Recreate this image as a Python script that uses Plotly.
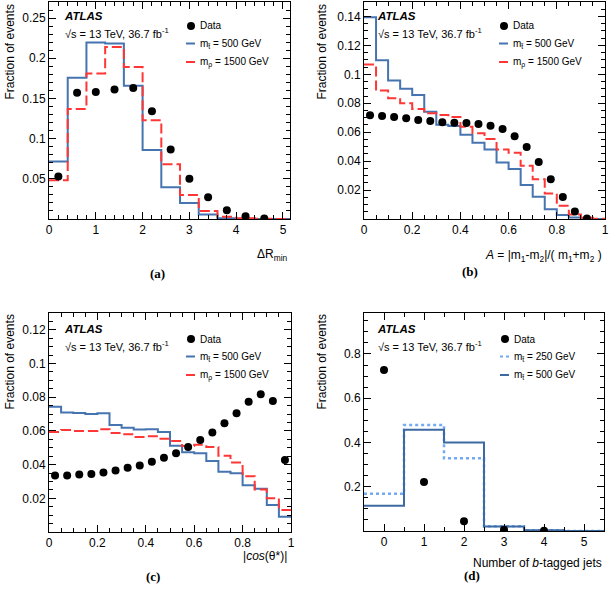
import plotly.graph_objects as go

# ---------------- data ----------------
# (a) Delta R_min
a_edges = [0.0, 0.4, 0.8, 1.2, 1.6, 2.0, 2.4, 2.8, 3.2, 3.6, 4.0, 4.4, 4.8, 5.2]
a_stop500 = [0.0716, 0.1757, 0.2197, 0.2185, 0.1658, 0.0857, 0.0396, 0.0200, 0.0056, 0.0010, 0.0003, 0.0001, 0.0]
a_rho1500 = [0.0483, 0.1370, 0.1810, 0.2140, 0.1890, 0.1230, 0.0680, 0.0300, 0.0100, 0.0027, 0.0010, 0.0003, 0.0]
a_data_x = [0.2, 0.6, 1.0, 1.4, 1.8, 2.2, 2.6, 3.0, 3.4, 3.8, 4.2, 4.6]
a_data = [0.053, 0.157, 0.158, 0.161, 0.163, 0.134, 0.0865, 0.050, 0.027, 0.011, 0.0035, 0.0006]

# (b) mass asymmetry
b_edges = [0.0, 0.05, 0.1, 0.15, 0.2, 0.25, 0.3, 0.35, 0.4, 0.45, 0.5,
           0.55, 0.6, 0.65, 0.7, 0.75, 0.8, 0.85, 0.9, 0.95, 1.0]
b_stop500 = [0.1395, 0.1098, 0.0957, 0.0901, 0.0858, 0.0742, 0.0652, 0.0643, 0.0583, 0.0527,
             0.0481, 0.0391, 0.0345, 0.0235, 0.0154, 0.0068, 0.0027, 0.0010, 0.0003, 0.0]
b_rho1500 = [0.1068, 0.0888, 0.0835, 0.0800, 0.0761, 0.0731, 0.0719, 0.0705, 0.0638, 0.0592,
             0.0553, 0.0481, 0.0458, 0.0368, 0.0274, 0.0177, 0.0091, 0.0031, 0.0008, 0.0002]
b_data_x = [0.025, 0.075, 0.125, 0.175, 0.225, 0.275, 0.325, 0.375, 0.425, 0.475,
            0.525, 0.575, 0.625, 0.675, 0.725, 0.775, 0.825, 0.875, 0.925]
b_data = [0.0717, 0.0712, 0.0705, 0.0696, 0.0685, 0.0678, 0.0668, 0.0666, 0.0664, 0.0657,
          0.0645, 0.0622, 0.0572, 0.0498, 0.0394, 0.0274, 0.0152, 0.0051, 0.0003]

# (c) |cos(theta*)|
c_edges = b_edges
c_stop500 = [0.0743, 0.0709, 0.0707, 0.0701, 0.0705, 0.0635, 0.0619, 0.0608, 0.0610, 0.0594,
             0.0512, 0.0474, 0.0468, 0.0421, 0.0357, 0.0349, 0.0278, 0.0256, 0.0160, 0.0091]
c_rho1500 = [0.0594, 0.0606, 0.0600, 0.0600, 0.0610, 0.0588, 0.0580, 0.0564, 0.0568, 0.0554,
             0.0540, 0.0510, 0.0518, 0.0504, 0.0452, 0.0413, 0.0331, 0.0252, 0.0200, 0.0130]
c_data_x = [0.025, 0.075, 0.125, 0.175, 0.225, 0.275, 0.325, 0.375, 0.425, 0.475,
            0.525, 0.575, 0.625, 0.675, 0.725, 0.775, 0.825, 0.875, 0.925, 0.975]
c_data = [0.0335, 0.0335, 0.0341, 0.0345, 0.0353, 0.0365, 0.0381, 0.0395, 0.0417, 0.0441,
          0.0468, 0.0504, 0.0546, 0.0590, 0.0645, 0.0705, 0.0773, 0.0818, 0.0777, 0.0427]

# (d) number of b-tagged jets
d_edges = [-0.5, 0.5, 1.5, 2.5, 3.5, 4.5, 5.5]
d_stop250 = [0.168, 0.479, 0.329, 0.021, 0.003, 0.0]
d_stop500 = [0.114, 0.458, 0.400, 0.020, 0.003, 0.0]
d_data_x = [0, 1, 2, 3, 4]
d_data = [0.727, 0.221, 0.044, 0.006, 0.001]

# tick labels
a_xticks = [0, 1, 2, 3, 4, 5]
a_yticks = [0.05, 0.1, 0.15, 0.2, 0.25]
b_xticks = [0, 0.2, 0.4, 0.6, 0.8, 1]
b_yticks = [0.02, 0.04, 0.06, 0.08, 0.1, 0.12, 0.14]
c_xticks = [0, 0.2, 0.4, 0.6, 0.8, 1]
c_yticks = [0.02, 0.04, 0.06, 0.08, 0.1, 0.12]
d_xticks = [0, 1, 2, 3, 4, 5]
d_yticks = [0.2, 0.4, 0.6, 0.8]

# ---------------- style ----------------
W, H = 610, 598
BLUE = "#4574b0"
RED = "#ff3636"
LIGHT = "#74aaf2"
DBLUE = "#3d6aa3"
FONT = "Liberation Sans"


def px(x):
    return x / W


def py(y):
    return 1 - y / H


def step(edges, vals):
    return list(edges), list(vals) + [vals[-1]]


fig = go.Figure()


def add_hist(edges, vals, xa, ya, color, dash="solid", width=2):
    xs, ys = step(edges, vals)
    fig.add_trace(go.Scatter(x=xs, y=ys, mode="lines", line=dict(color=color, width=width, dash=dash, shape="hv"),
                             xaxis=xa, yaxis=ya, showlegend=False, hoverinfo="skip"))


def add_data(xs, ys, xa, ya):
    fig.add_trace(go.Scatter(x=xs, y=ys, mode="markers", marker=dict(color="black", size=8),
                             xaxis=xa, yaxis=ya, showlegend=False))


DASH = "10px,4px"
add_hist(a_edges, a_stop500, "x", "y", BLUE)
add_hist(a_edges, a_rho1500, "x", "y", RED, DASH)
add_data(a_data_x, a_data, "x", "y")

add_hist(b_edges, b_stop500, "x2", "y2", BLUE)
add_hist(b_edges, b_rho1500, "x2", "y2", RED, DASH)
add_data(b_data_x, b_data, "x2", "y2")

add_hist(c_edges, c_stop500, "x3", "y3", BLUE)
add_hist(c_edges, c_rho1500, "x3", "y3", RED, DASH)
add_data(c_data_x, c_data, "x3", "y3")

add_hist(d_edges, d_stop250, "x4", "y4", LIGHT, "dot", 2.5)
add_hist(d_edges, d_stop500, "x4", "y4", DBLUE, "solid", 2)
add_data(d_data_x, d_data, "x4", "y4")


def axis(domain, rng, tickvals, minor, anchor):
    return dict(domain=domain, range=rng, tickvals=tickvals,
                ticktext=[("%g" % v) for v in tickvals],
                ticks="inside", ticklen=7, tickwidth=1, tickcolor="black",
                showline=True, linecolor="black", linewidth=1, mirror="allticks",
                showgrid=False, zeroline=False, anchor=anchor, automargin=False,
                tickfont=dict(family=FONT, size=12, color="black"),
                minor=dict(dtick=minor, tick0=0, ticks="inside", ticklen=4, tickcolor="black", showgrid=False))


fig.update_layout(
    width=W, height=H, margin=dict(l=0, r=0, t=0, b=0, autoexpand=False),
    paper_bgcolor="white", plot_bgcolor="white",
    font=dict(family=FONT, color="black"),
    xaxis=axis([px(49), px(290)], [0, 5.15], a_xticks, 0.2, "y"),
    yaxis=axis([py(219), py(2)], [0, 0.27], a_yticks, 0.01, "x"),
    xaxis2=axis([px(364), px(605)], [0, 1], b_xticks, 0.05, "y2"),
    yaxis2=axis([py(219), py(2)], [0, 0.15], b_yticks, 0.005, "x2"),
    xaxis3=axis([px(49), px(291)], [0, 1], c_xticks, 0.05, "y3"),
    yaxis3=axis([py(532), py(313)], [0, 0.13], c_yticks, 0.005, "x3"),
    xaxis4=axis([px(364), px(604)], [-0.5, 5.5], d_xticks, 0.5, "y4"),
    yaxis4=axis([py(531), py(313)], [0, 0.985], d_yticks, 0.05, "x4"),
)

ann = []
shapes = []


def text(x, y, s, size, xanchor="left", yanchor="middle", angle=0, family=FONT):
    ann.append(dict(x=px(x), y=py(y), xref="paper", yref="paper", text=s, showarrow=False,
                    xanchor=xanchor, yanchor=yanchor, textangle=angle,
                    font=dict(family=family, size=size, color="black")))


# y axis titles
for x0, y0 in [(9, 3), (321, 3), (9, 313), (321, 313)]:
    text(x0, y0, "Fraction of events", 12, "center", "top", -90)

# x axis titles
text(290, 255, "ΔR<sub>min</sub>", 12, "right")
text(604, 256, "<i>A</i> = |m<sub>1</sub>-m<sub>2</sub>|/( m<sub>1</sub>+m<sub>2</sub> )", 12, "right")
text(289, 556, "|<i>cos</i>(θ*)|", 12, "right")
text(604, 563, "Number of <i>b</i>-tagged jets", 12, "right")

# panel labels
for x0, y0, s in [(157, 273, "(a)"), (470, 272, "(b)"), (153, 576, "(c)"), (472, 575, "(d)")]:
    text(x0, y0, "<b>%s</b>" % s, 13, "center", "middle", family="Liberation Serif")

# ATLAS labels
for x0, y0 in [(62, 16), (375, 16), (62, 329), (375, 329)]:
    text(x0, y0, "<b><i>ATLAS</i></b>", 11.5)
    text(x0 + 1, y0 + 17, "√s = 13 TeV, 36.7 fb<sup>-1</sup>", 11)

# legends
legs = [
    (191, 26, [("m<sub>t̃</sub> = 500 GeV", BLUE, "solid"), ("m<sub>ρ</sub> = 1500 GeV", RED, "solid")]),
    (504, 26, [("m<sub>t̃</sub> = 500 GeV", BLUE, "solid"), ("m<sub>ρ</sub> = 1500 GeV", RED, "solid")]),
    (191, 339, [("m<sub>t̃</sub> = 500 GeV", BLUE, "solid"), ("m<sub>ρ</sub> = 1500 GeV", RED, "solid")]),
    (505, 339, [("m<sub>t̃</sub> = 250 GeV", LIGHT, "dot"), ("m<sub>t̃</sub> = 500 GeV", DBLUE, "solid")]),
]
for cx, cy, items in legs:
    shapes.append(dict(type="circle", xref="paper", yref="paper",
                       x0=px(cx - 4), x1=px(cx + 4), y0=py(cy + 4), y1=py(cy - 4),
                       fillcolor="black", line=dict(color="black", width=0)))
    text(cx + 7, cy, "Data", 10)
    for i, (lab, col, dsh) in enumerate(items):
        yy = cy + 17.5 + 18.5 * i
        shapes.append(dict(type="line", xref="paper", yref="paper",
                           x0=px(cx - 5), x1=px(cx + 4), y0=py(yy), y1=py(yy),
                           line=dict(color=col, width=2, dash=dsh)))
        text(cx + 7, yy, lab, 10)

fig.update_layout(annotations=ann, shapes=shapes)
fig.write_html("out.html", config={"displayModeBar": False},
               post_script="document.body.style.margin='0';document.body.style.overflow='hidden';")
